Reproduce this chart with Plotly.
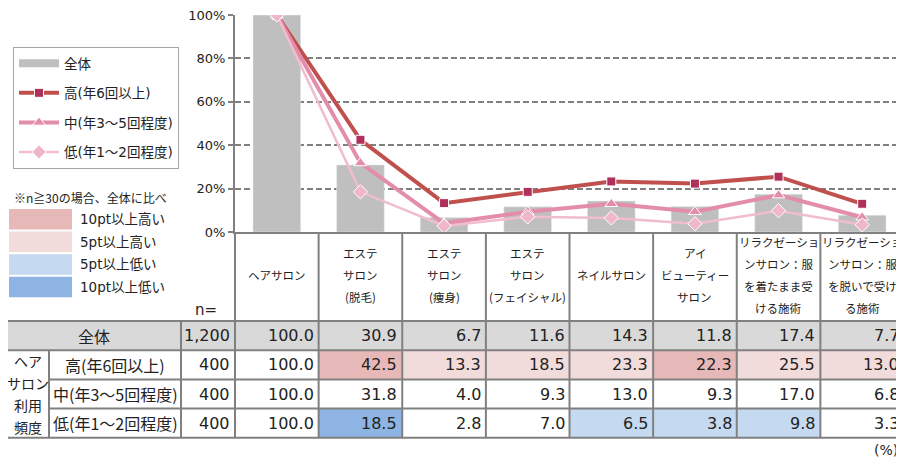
import plotly.graph_objects as go

# ---- data ----
categories = [
    "ヘアサロン",
    "エステ\nサロン\n(脱毛)",
    "エステ\nサロン\n(痩身)",
    "エステ\nサロン\n(フェイシャル)",
    "ネイルサロン",
    "アイ\nビューティー\nサロン",
    "リラクゼーショ\nンサロン：服\nを着たまま受\nける施術",
    "リラクゼーショ\nンサロン：服\nを脱いで受け\nる施術",
]
group_names = ["全体", "高(年6回以上)", "中(年3～5回程度)", "低(年1～2回程度)"]
group_n = ["1,200", "400", "400", "400"]
total = [100.0, 30.9, 6.7, 11.6, 14.3, 11.8, 17.4, 7.7]
high = [100.0, 42.5, 13.3, 18.5, 23.3, 22.3, 25.5, 13.0]
mid = [100.0, 31.8, 4.0, 9.3, 13.0, 9.3, 17.0, 6.8]
low = [100.0, 18.5, 2.8, 7.0, 6.5, 3.8, 9.8, 3.3]
y_ticks = [0, 20, 40, 60, 80, 100]
side_label = ["ヘア", "サロン", "利用", "頻度"]
diff_labels = ["10pt以上高い", "5pt以上高い", "5pt以上低い", "10pt以上低い"]
diff_colors = ["#E6B9B8", "#F2DCDB", "#C5D9F1", "#8DB4E2"]

# ---- layout constants (page pixels; the figure sits 8px in from the page corner) ----
OFF = 8
PW, PH = 904, 459
W, H = PW - OFF, PH - OFF
PLOT_L, PLOT_T, PLOT_B = 235, 15, 232
CW = (PW - PLOT_L) / len(categories)
TAB_T, ROW_H = 321, 29.2
COL_EDGES = [7, 49, 181]
GRID = "#808080"
TXT = "#222222"
BAR = "#BFBFBF"
NUM_FONT = "DejaVu Sans, Noto Sans CJK JP, sans-serif"
JP_FONT = "Noto Sans CJK JP, sans-serif"


def u(px):
    # page x -> table axis units (same scale as the chart categories)
    return (px - PLOT_L) / CW - 0.5


def pxp(px):
    return (px - OFF) / W


def pyp(py):
    return 1 - (py - OFF) / H


def shade(v, base):
    d = v - base
    if d >= 10:
        return diff_colors[0]
    if d >= 5:
        return diff_colors[1]
    if d <= -10:
        return diff_colors[3]
    if d <= -5:
        return diff_colors[2]
    return None


xs = list(range(len(categories)))
fig = go.Figure()
fig.add_trace(go.Bar(x=xs, y=total, name="全体", marker_color=BAR, width=0.57,
                     showlegend=False))
# legend-only entry so the key shows a wide bar like the original
fig.add_trace(go.Scatter(x=[None], y=[None], name="全体", mode="lines",
                         line=dict(color=BAR, width=8), legendgroup="a"))
fig.add_trace(go.Scatter(x=xs, y=high, name="高(年6回以上)", mode="lines+markers",
                         line=dict(color="#C0504D", width=4), legendgroup="b",
                         marker=dict(symbol="square", size=9, color="#B0305C",
                                     line=dict(color="white", width=1))))
fig.add_trace(go.Scatter(x=xs, y=mid, name="中(年3～5回程度)", mode="lines+markers",
                         line=dict(color="#E38DAA", width=4), legendgroup="c",
                         marker=dict(symbol="triangle-up", size=11, color="#E38DAA",
                                     line=dict(color="white", width=1))))
fig.add_trace(go.Scatter(x=xs, y=low, name="低(年1～2回程度)", mode="lines+markers",
                         line=dict(color="#F2BCCF", width=2.5), legendgroup="d",
                         marker=dict(symbol="diamond", size=11, color="#F0B6CA",
                                     line=dict(color="white", width=1))))

shapes = []
ann = []

# ---- category header labels & separators ----
for i, c in enumerate(categories):
    lines = c.split("\n")
    for k, t in enumerate(lines):
        y = 275 + (k - (len(lines) - 1) / 2) * 22.3
        ann.append(dict(x=i, y=y, xref="x2", yref="y2", text=t, showarrow=False,
                        font=dict(size=11.5, family=JP_FONT, color=TXT)))
for b in range(len(categories) + 1):
    shapes.append(dict(type="line", xref="x2", yref="y2", x0=b - 0.5, x1=b - 0.5,
                       y0=PLOT_B, y1=TAB_T + 4 * ROW_H, line=dict(color=GRID, width=2)))

ann.append(dict(x=u(219), y=310, xref="x2", yref="y2", text="n=", showarrow=False,
                xanchor="right", font=dict(size=15, family=NUM_FONT, color=TXT)))

# ---- table ----
rows = [total, high, mid, low]
for r, vals in enumerate(rows):
    y0 = TAB_T + r * ROW_H
    y1 = y0 + ROW_H
    if r == 0:
        shapes.append(dict(type="rect", xref="x2", yref="y2", x0=u(COL_EDGES[0]), x1=u(PW),
                           y0=y0, y1=y1, fillcolor="#D9D9D9", line_width=0, layer="below"))
        lx = u((COL_EDGES[0] + COL_EDGES[2]) / 2)
    else:
        for i, v in enumerate(vals):
            col = shade(v, total[i])
            if col:
                shapes.append(dict(type="rect", xref="x2", yref="y2", x0=i - 0.5, x1=i + 0.5,
                                   y0=y0, y1=y1, fillcolor=col, line_width=0, layer="below"))
        lx = u((COL_EDGES[1] + COL_EDGES[2]) / 2)
    ann.append(dict(x=lx, y=(y0 + y1) / 2, xref="x2", yref="y2", text=group_names[r],
                    showarrow=False, font=dict(size=16, family=JP_FONT, color=TXT)))
    ann.append(dict(x=-0.5, y=(y0 + y1) / 2, xref="x2", yref="y2", text=group_n[r],
                    showarrow=False, xanchor="right", xshift=-3,
                    font=dict(size=16, family=NUM_FONT, color=TXT)))
    for i, v in enumerate(vals):
        ann.append(dict(x=i + 0.5, y=(y0 + y1) / 2, xref="x2", yref="y2", text=f"{v:.1f}",
                        showarrow=False, xanchor="right", xshift=-3,
                        font=dict(size=16, family=NUM_FONT, color=TXT)))

for k, t in enumerate(side_label):
    ann.append(dict(x=u((COL_EDGES[0] + COL_EDGES[1]) / 2), y=TAB_T + 2.5 * ROW_H + (k - 1.5) * 22,
                    xref="x2", yref="y2", text=t, showarrow=False,
                    font=dict(size=14, family=JP_FONT, color=TXT)))

# horizontal table lines
for r in range(5):
    y = TAB_T + r * ROW_H
    x0 = COL_EDGES[0] if r in (0, 1, 4) else COL_EDGES[1]
    shapes.append(dict(type="line", xref="x2", yref="y2", x0=u(x0), x1=u(PW), y0=y, y1=y,
                       line=dict(color=GRID, width=2)))
# vertical table lines in the label area
for e, top in ((COL_EDGES[0], TAB_T), (COL_EDGES[1], TAB_T + ROW_H), (COL_EDGES[2], TAB_T)):
    shapes.append(dict(type="line", xref="x2", yref="y2", x0=u(e), x1=u(e),
                       y0=top, y1=TAB_T + 4 * ROW_H, line=dict(color=GRID, width=2)))

ann.append(dict(x=u(900), y=450, xref="x2", yref="y2", text="(%)", showarrow=False,
                xanchor="right", font=dict(size=14, family=NUM_FONT, color=TXT)))

# ---- difference colour key ----
ann.append(dict(x=pxp(12), y=pyp(197), xref="paper", yref="paper", xanchor="left",
                text="※n≧30の場合、全体に比べ", showarrow=False,
                font=dict(size=12, family=JP_FONT, color=TXT)))
for k, (lab, col) in enumerate(zip(diff_labels, diff_colors)):
    top = 209 + k * 22.6
    shapes.append(dict(type="rect", xref="paper", yref="paper", x0=pxp(9), x1=pxp(72),
                       y0=pyp(top + 20.5), y1=pyp(top), fillcolor=col, line_width=0))
    ann.append(dict(x=pxp(78), y=pyp(top + 10), xref="paper", yref="paper",
                    xanchor="left", text=lab, showarrow=False,
                    font=dict(size=13.5, family=NUM_FONT, color=TXT)))

fig.update_layout(
    width=W, height=H, margin=dict(l=0, r=0, t=0, b=0, autoexpand=False),
    paper_bgcolor="white", plot_bgcolor="white",
    font=dict(family=NUM_FONT, color=TXT),
    showlegend=True,
    legend=dict(x=pxp(13), y=pyp(47), xanchor="left", yanchor="top",
                bordercolor="#A6A6A6", borderwidth=1, bgcolor="white",
                traceorder="grouped", tracegroupgap=9, itemwidth=40,
                font=dict(size=13.5, family=NUM_FONT, color=TXT)),
    xaxis=dict(domain=[pxp(PLOT_L), 1], range=[-0.5, len(categories) - 0.5],
               showticklabels=False, showgrid=False, zeroline=False, automargin=False,
               showline=True, linecolor=GRID, linewidth=2, ticks=""),
    yaxis=dict(domain=[pyp(PLOT_B), pyp(PLOT_T)], range=[0, 100], automargin=False,
               tickvals=y_ticks, ticktext=[f"{t}%" for t in y_ticks],
               ticklabeloverflow="allow",
               showgrid=True, gridcolor=GRID, griddash="6px,3px", gridwidth=1.5,
               zeroline=False, showline=True, linecolor=GRID, linewidth=2, mirror=True,
               ticks="outside", ticklen=5, tickcolor=GRID, tickwidth=1.5,
               tickfont=dict(size=13, family=NUM_FONT, color=TXT)),
    xaxis2=dict(domain=[0, 1], range=[u(OFF), u(PW)], visible=False, anchor="y2",
                automargin=False),
    yaxis2=dict(domain=[0, pyp(PLOT_B)], range=[PH, PLOT_B], visible=False, anchor="x2",
                automargin=False),
    shapes=shapes, annotations=ann,
)

fig.write_html("out.html")
